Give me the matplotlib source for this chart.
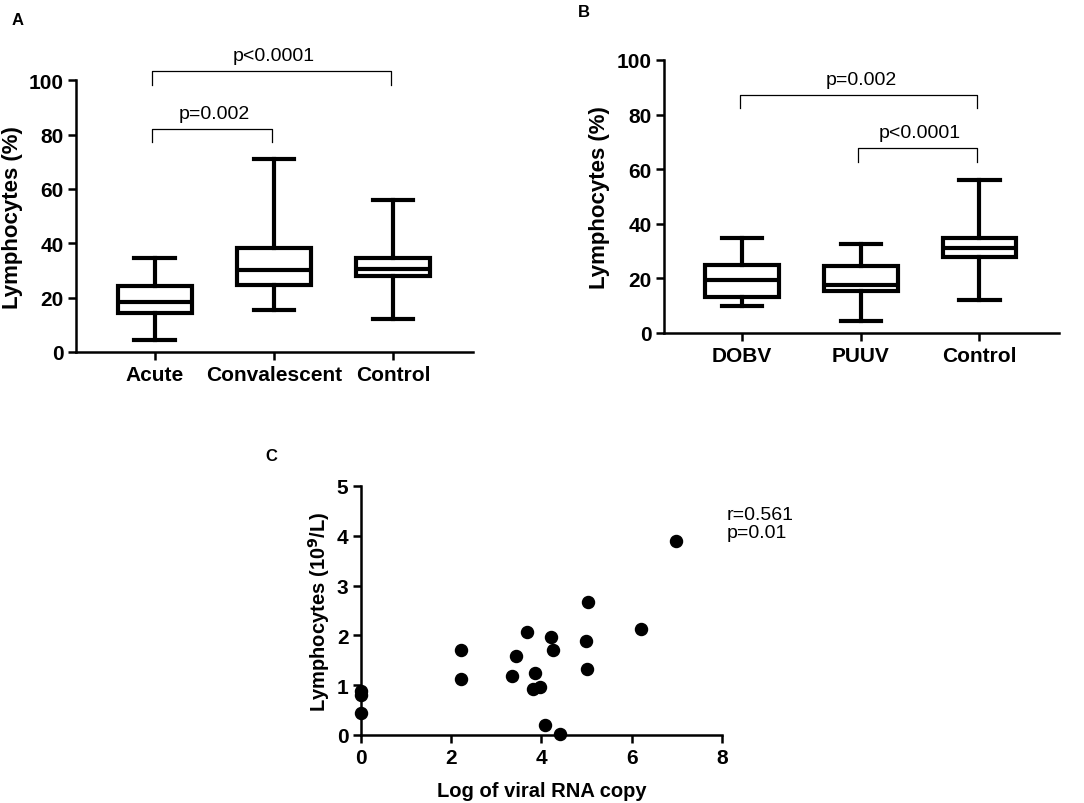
import matplotlib
matplotlib.use('Agg')
import matplotlib.pyplot as plt

plt.rcParams['font.family'] = ['Liberation Sans', 'DejaVu Sans']

# Panel A: box plot summary (whisker low, Q1, median, Q3, whisker high)
a_groups = ['Acute', 'Convalescent', 'Control']
a_low = [4.4, 15.4, 12.0]
a_q1 = [14.5, 24.5, 27.9]
a_med = [18.4, 30.1, 30.6]
a_q3 = [24.3, 38.1, 34.4]
a_high = [34.7, 71.1, 56.0]

# Panel B
b_groups = ['DOBV', 'PUUV', 'Control']
b_low = [9.9, 4.3, 12.0]
b_q1 = [13.2, 15.2, 27.8]
b_med = [19.3, 17.4, 31.1]
b_q3 = [24.8, 24.5, 34.8]
b_high = [34.8, 32.7, 55.9]

# significance brackets: (start group, end group, height, text)
a_brackets = [(1, 2, 82.2, 'p=0.002'), (1, 3, 103.3, 'p<0.0001')]
b_brackets = [(1, 3, 87.3, 'p=0.002'), (2, 3, 67.7, 'p<0.0001')]

# Panel C: scatter
c_x = [0, 0, 0, 2.22, 2.22, 3.35, 3.43, 3.69, 3.86, 3.82, 3.96, 4.08,
       4.22, 4.25, 4.41, 4.98, 5.03, 5.02, 6.20, 6.99]
c_y = [0.88, 0.80, 0.44, 1.70, 1.12, 1.18, 1.59, 2.06, 1.25, 0.93, 0.96, 0.20,
       1.96, 1.71, 0.01, 1.88, 2.68, 1.32, 2.12, 3.90]

fig = plt.figure(figsize=(10.84, 8.04), dpi=100)


def style_axes(ax, xsize=15, ysize=15):
    for s in ['top', 'right']:
        ax.spines[s].set_visible(False)
    for s in ['left', 'bottom']:
        ax.spines[s].set_linewidth(1.8)
    ax.tick_params(width=1.8, length=6)
    ax.tick_params(axis='x', labelsize=xsize)
    ax.tick_params(axis='y', labelsize=ysize, pad=3)
    for lab in ax.get_xticklabels() + ax.get_yticklabels():
        lab.set_fontweight('bold')


def box_panel(ax, groups, low, q1, med, q3, high, brackets, ylab_x):
    stats = []
    for i in range(len(groups)):
        stats.append({'whislo': low[i], 'q1': q1[i], 'med': med[i],
                      'q3': q3[i], 'whishi': high[i], 'fliers': []})
    lw = 3
    ax.bxp(stats, positions=range(1, len(groups) + 1), widths=0.62,
           showfliers=False, patch_artist=True,
           boxprops=dict(facecolor='white', edgecolor='black', linewidth=lw),
           medianprops=dict(color='black', linewidth=lw),
           whiskerprops=dict(color='black', linewidth=lw),
           capprops=dict(color='black', linewidth=lw),
           capwidths=0.34)
    ax.set_xlim(0.34, 3.67)
    ax.set_ylim(0, 100)
    ax.set_yticks([0, 20, 40, 60, 80, 100])
    ax.set_xticks([1, 2, 3])
    ax.set_xticklabels(groups)
    ax.set_ylabel('Lymphocytes (%)', fontsize=16, fontweight='bold')
    ax.yaxis.set_label_coords(ylab_x, 0.5)
    style_axes(ax)
    for g1, g2, h, txt in brackets:
        ax.plot([g1 - 0.02, g1 - 0.02, g2 - 0.02, g2 - 0.02], [h - 5, h, h, h - 5],
                color='black', lw=0.9, clip_on=False)
        ax.text((g1 + g2) / 2, h + 2.5, txt, ha='center', va='bottom', fontsize=14)


axA = fig.add_axes([0.0701, 0.561, 0.3663, 0.338])
box_panel(axA, a_groups, a_low, a_q1, a_med, a_q3, a_high, a_brackets, -0.134)

axB = fig.add_axes([0.6125, 0.5846, 0.3644, 0.3396])
box_panel(axB, b_groups, b_low, b_q1, b_med, b_q3, b_high, b_brackets, -0.137)

axC = fig.add_axes([0.333, 0.0846, 0.333, 0.3097])
axC.scatter(c_x, c_y, s=75, color='black', zorder=3, clip_on=False)
axC.set_xlim(0, 8)
axC.set_ylim(0, 5)
axC.set_xticks([0, 2, 4, 6, 8])
axC.set_yticks([0, 1, 2, 3, 4, 5])
axC.set_xlabel('Log of viral RNA copy', fontsize=14.5, fontweight='bold')
axC.set_ylabel('Lymphocytes (10$^\\mathbf{9}$/L)', fontsize=14.5, fontweight='bold')
axC.xaxis.set_label_coords(0.5, -0.185)
axC.yaxis.set_label_coords(-0.08, 0.5)
style_axes(axC)
axC.text(8.1, 4.6, 'r=0.561\np=0.01', ha='left', va='top', fontsize=14,
         linespacing=1.1)

fig.text(0.011, 0.975, 'A', fontsize=12, fontweight='bold', va='center')
fig.text(0.533, 0.985, 'B', fontsize=12, fontweight='bold', va='center')
fig.text(0.245, 0.432, 'C', fontsize=12, fontweight='bold', va='center')

fig.savefig('out.png', dpi=100)
